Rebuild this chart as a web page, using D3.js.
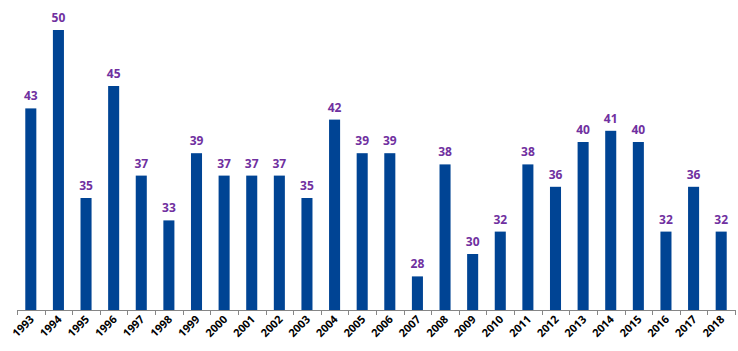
<!DOCTYPE html>
<html lang="en">
<head>
  <meta charset="UTF-8">
  <style type="text/css">
    body {margin:0; background:#fff;}
    .axis text {font: bold 11px "Open Sans", sans-serif; fill:#000;}
    .label {font: bold 12px "Open Sans", sans-serif; fill:#7030a0;}
  </style>
  <title>Chart</title>
</head>
<body>
  <svg id="chart" width="738" height="351"></svg>
  <script src="https://d3js.org/d3.v7.min.js"></script>
  <script type="text/javascript">
    var years = ["1993","1994","1995","1996","1997","1998","1999","2000","2001","2002","2003","2004","2005",
                 "2006","2007","2008","2009","2010","2011","2012","2013","2014","2015","2016","2017","2018"];
    var values = [43,50,35,45,37,33,39,37,37,37,35,42,39,39,28,38,30,32,38,36,40,41,40,32,36,32];
    var yDomain = [25, 50];

    var data = years.map(function(y, i) { return {year: y, value: values[i]}; });

    var svg = d3.select("#chart");
    var margin = {top:30, right:3, bottom:41, left:17},
        width  = +svg.attr("width") - margin.left - margin.right,
        height = +svg.attr("height") - margin.top - margin.bottom;

    var x = d3.scaleBand().range([0, width]).domain(years).paddingInner(0.6).paddingOuter(0.3),
        y = d3.scaleLinear().range([height, 0]).domain(yDomain);

    var g = svg.append("g")
        .attr("transform", `translate(${margin.left},${margin.top})`);

    // bars
    g.selectAll(".bar")
      .data(data)
      .enter().append("rect")
        .attr("class", "bar")
        .attr("x", d => x(d.year))
        .attr("y", d => y(d.value))
        .attr("width", x.bandwidth())
        .attr("height", d => height - y(d.value))
        .style("fill", "#004494");

    // value labels
    g.selectAll(".label")
      .data(data)
      .enter().append("text")
        .attr("class", "label")
        .attr("x", d => x(d.year) + x.bandwidth() / 2)
        .attr("y", d => y(d.value) - 8)
        .attr("text-anchor", "middle")
        .text(d => d.value);

    // x-axis, ticks sit between the bands
    var step = x.step();
    var xAxis = g.append("g")
      .attr("class", "axis")
      .attr("transform", `translate(0,${height})`);

    xAxis.append("line")
      .attr("x1", 0).attr("x2", width)
      .attr("y1", 0.5).attr("y2", 0.5)
      .style("stroke", "#868686");

    xAxis.selectAll(".tick")
      .data(d3.range(years.length + 1))
      .enter().append("line")
        .attr("x1", i => Math.round(i * step) + 0.5)
        .attr("x2", i => Math.round(i * step) + 0.5)
        .attr("y1", 0).attr("y2", 5)
        .style("stroke", "#868686");

    xAxis.selectAll(".year")
      .data(years)
      .enter().append("text")
        .attr("text-anchor", "end")
        .attr("transform", d => `translate(${x(d) + x.bandwidth() / 2 + 4},${10}) rotate(-45)`)
        .text(d => d);
  </script>
</body>
</html>
